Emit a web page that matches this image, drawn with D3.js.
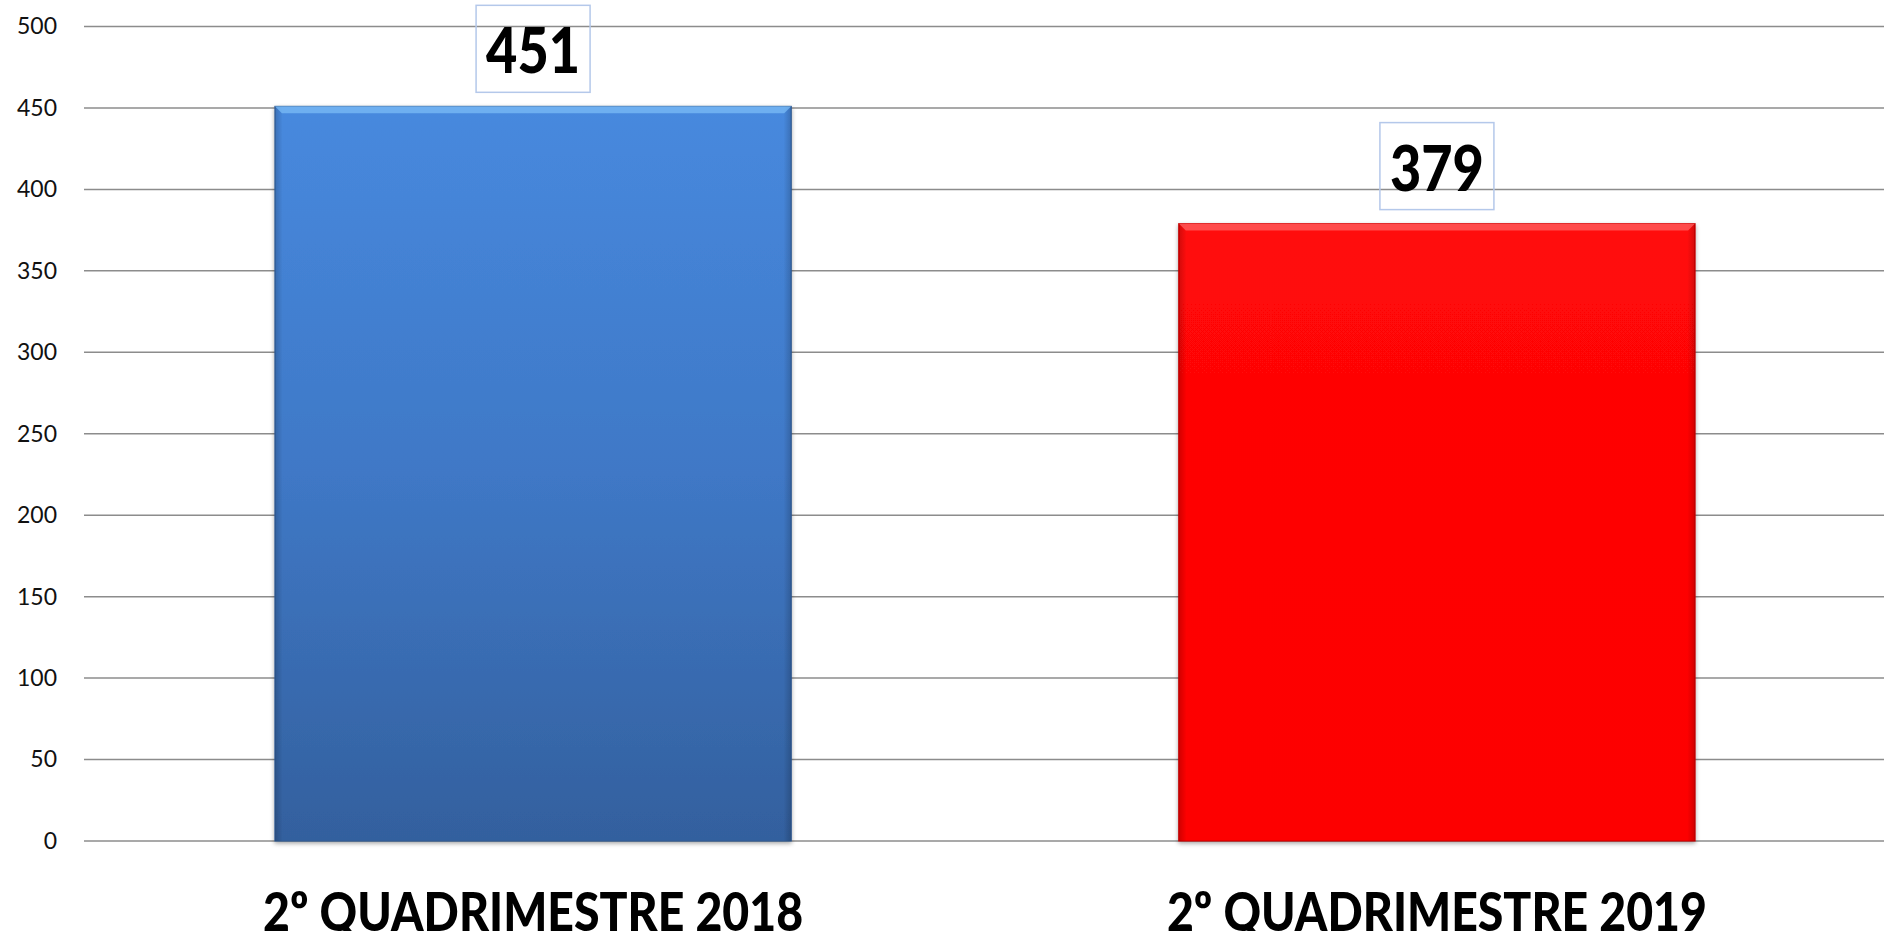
<!DOCTYPE html>
<html>
<head>
<meta charset="utf-8">
<script src="https://cdn.jsdelivr.net/npm/d3@7"></script>
<style>
  html, body { margin: 0; padding: 0; background: #fff; }
  svg { display: block; font-family: Lato, "Open Sans", sans-serif; }
</style>
</head>
<body>
<svg width="1884" height="931"></svg>
<script>
var categories = ["2º QUADRIMESTRE 2018", "2º QUADRIMESTRE 2019"];
var values = [451, 379];
var tickValues = [0, 50, 100, 150, 200, 250, 300, 350, 400, 450, 500];

var svg = d3.select("svg");
var width = +svg.attr("width"),
height = +svg.attr("height");

var plotLeft = 84, plotRight = 1884, plotTop = 26.5, plotBottom = 841;

var x = d3.scaleBand()
.domain(categories)
.range([plotLeft + 2, plotRight])
.paddingInner(0.4287)
.paddingOuter(0.209);

var y = d3.scaleLinear()
.domain([0, 500])
.range([plotBottom, plotTop]);

var defs = svg.append("defs");

var blue = defs.append("linearGradient").attr("id", "gBlue").attr("x1", 0).attr("y1", 0).attr("x2", 0).attr("y2", 1);
blue.append("stop").attr("offset", "0%").attr("stop-color", "#4789de");
blue.append("stop").attr("offset", "50%").attr("stop-color", "#3f78c6");
blue.append("stop").attr("offset", "100%").attr("stop-color", "#33609e");

var red = defs.append("linearGradient").attr("id", "gRed").attr("x1", 0).attr("y1", 0).attr("x2", 0).attr("y2", 1);
red.append("stop").attr("offset", "0%").attr("stop-color", "#ff0808");
red.append("stop").attr("offset", "100%").attr("stop-color", "#fd0000");

// darker side edges, like the 3D bevel of the original
var sides = defs.append("linearGradient").attr("id", "gSides").attr("x1", 0).attr("y1", 0).attr("x2", 1).attr("y2", 0);
sides.append("stop").attr("offset", "0%").attr("stop-color", "#000").attr("stop-opacity", 0.18);
sides.append("stop").attr("offset", "1.5%").attr("stop-color", "#000").attr("stop-opacity", 0);
sides.append("stop").attr("offset", "98.5%").attr("stop-color", "#000").attr("stop-opacity", 0);
sides.append("stop").attr("offset", "100%").attr("stop-color", "#000").attr("stop-opacity", 0.18);

var shadow = defs.append("filter").attr("id", "shadow").attr("x", "-5%").attr("y", "-5%").attr("width", "110%").attr("height", "110%");
shadow.append("feDropShadow").attr("dx", 0).attr("dy", 2).attr("stdDeviation", 2).attr("flood-color", "#000").attr("flood-opacity", 0.35);

var fills = ["url(#gBlue)", "url(#gRed)"];
var edges = ["#2f5a93", "#c80000"];
var bevels = ["#7bbcf5", "#ff6060"];

// grid lines
svg.append("g")
.selectAll("line")
.data(tickValues)
.enter().append("line")
.attr("x1", plotLeft)
.attr("x2", plotRight)
.attr("y1", function(d) { return y(d); })
.attr("y2", function(d) { return y(d); })
.attr("stroke", "#8c8c8c")
.attr("stroke-width", 1.5);

// y axis labels
var yAxis = svg.append("g")
.attr("transform", "translate(" + (plotLeft - 27) + ",0)")
.call(d3.axisLeft(y).tickValues(tickValues).tickSize(0).tickPadding(0));
yAxis.select(".domain").remove();
yAxis.selectAll("text")
.attr("font-family", "Lato, sans-serif")
.attr("font-size", 23)
.attr("fill", "#111");

// bars
var bars = svg.append("g")
.selectAll("g")
.data(values)
.enter().append("g");

bars.append("rect")
.attr("x", function(d, i) { return x(categories[i]); })
.attr("y", function(d) { return y(d); })
.attr("width", x.bandwidth())
.attr("height", function(d) { return y(0) - y(d); })
.attr("fill", function(d, i) { return fills[i]; })
.attr("stroke", function(d, i) { return edges[i]; })
.attr("stroke-width", 1)
.attr("filter", "url(#shadow)");

bars.append("rect")
.attr("x", function(d, i) { return x(categories[i]); })
.attr("y", function(d) { return y(d); })
.attr("width", x.bandwidth())
.attr("height", function(d) { return y(0) - y(d); })
.attr("fill", "url(#gSides)");

// top bevel
bars.append("path")
.attr("d", function(d, i) {
  var x0 = x(categories[i]), x1 = x0 + x.bandwidth(), y0 = y(d), b = 7;
  return "M" + x0 + "," + y0 + "L" + x1 + "," + y0 + "L" + (x1 - b) + "," + (y0 + b) + "L" + (x0 + b) + "," + (y0 + b) + "Z";
})
.attr("fill", function(d, i) { return bevels[i]; })
.attr("opacity", 0.75);

// value labels
var labels = svg.append("g")
.selectAll("g")
.data(values)
.enter().append("g")
.attr("transform", function(d, i) { return "translate(" + (x(categories[i]) + x.bandwidth() / 2) + "," + y(d) + ")"; });

labels.append("rect")
.attr("x", -57)
.attr("y", -101)
.attr("width", 114)
.attr("height", 87)
.attr("fill", "none")
.attr("stroke", "#b4c8ea")
.attr("stroke-width", 1.5);

labels.append("text")
.attr("text-anchor", "middle")
.attr("y", -33)
.attr("font-size", 62)
.attr("font-weight", 900)
.attr("fill", "#000")
.attr("textLength", 94)
.attr("lengthAdjust", "spacingAndGlyphs")
.text(function(d) { return d; });

// category labels
svg.append("g")
.selectAll("text")
.data(categories)
.enter().append("text")
.attr("x", function(d) { return x(d) + x.bandwidth() / 2; })
.attr("y", 931)
.attr("text-anchor", "middle")
.attr("font-size", 54)
.attr("font-weight", 900)
.attr("fill", "#000")
.attr("textLength", 540)
.attr("lengthAdjust", "spacingAndGlyphs")
.text(function(d) { return d; });
</script>
</body>
</html>
